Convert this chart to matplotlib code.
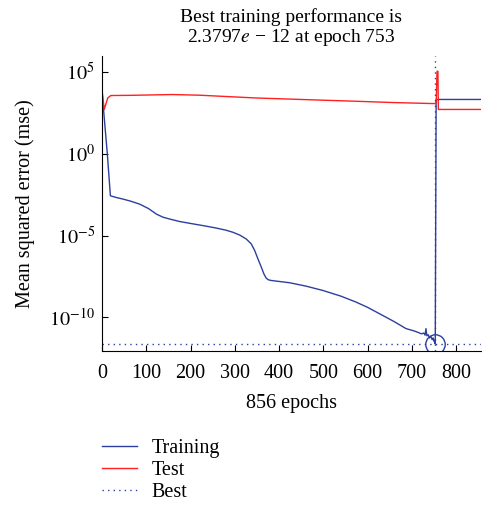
"""
Training performance plot (mse vs epochs), log scale
"""
import numpy as np
import matplotlib
matplotlib.use("Agg")
import matplotlib.pyplot as plt
from matplotlib.lines import Line2D

plt.rcParams['font.family'] = ['Liberation Serif', 'DejaVu Serif']
plt.rcParams['mathtext.fontset'] = 'stix'

# values (log10 of mse)
train_epochs = [0, 6, 12, 19, 30, 47, 65, 85, 105, 123, 138, 153, 175, 198, 230,
                258, 280, 296, 312, 326, 337, 345, 352, 360, 366, 371, 376, 382,
                400, 424, 460, 499, 540, 574, 600, 627, 660, 687, 705, 715, 722,
                727, 730, 732, 734, 737, 740, 743, 746, 748, 750, 751, 753,
                755, 757, 856]
train_log = [3.8, 1.9, 0.0, -2.57, -2.66, -2.77, -2.9, -3.08, -3.35, -3.69,
             -3.88, -3.99, -4.14, -4.25, -4.4, -4.54, -4.67, -4.8, -4.98, -5.21,
             -5.5, -5.91, -6.4, -6.93, -7.35, -7.6, -7.7, -7.74, -7.8, -7.88,
             -8.08, -8.35, -8.7, -9.06, -9.38, -9.77, -10.25, -10.68, -10.82,
             -10.92, -11.0, -10.95, -11.08, -10.68, -11.12, -11.05, -11.25,
             -11.15, -11.35, -11.25, -11.45, -11.4, -11.62, 3.31, 3.31, 3.31]

test_epochs = [0, 5, 13, 20, 60, 100, 159, 220, 348, 460, 574, 660, 747,
               755, 757, 759, 760, 856]
test_log = [3.91, 2.7, 3.4, 3.55, 3.56, 3.58, 3.61, 3.57, 3.4, 3.3, 3.2, 3.12,
            3.06, 3.06, 5.03, 5.03, 2.7, 2.7]

best_epoch = 753
best_perf = 2.3797e-12
n_epochs = 856

blue = '#2D3F9E'
red = '#FF2020'
fs = 14.5

fig = plt.figure(figsize=(4.82, 5.11), dpi=100)
ax = fig.add_axes([0.2116, 0.313, 0.786, 0.577])

ax.plot(train_epochs, 10.0 ** np.array(train_log), color=blue, lw=1.0)
ax.plot(test_epochs, 10.0 ** np.array(test_log), color=red, lw=1.0)
ax.axvline(best_epoch, color=blue, ls=(0, (1, 3)), lw=1.0)
ax.axhline(best_perf, color=blue, ls=(0, (1, 3)), lw=1.0)
ax.plot([best_epoch], [best_perf], 'o', mfc='none', mec=blue, ms=14, mew=1.0)

ax.set_yscale('log')
ax.set_xlim(0, n_epochs)
ax.set_ylim(10 ** -12.05, 10 ** 5.95)
ax.set_xticks(range(0, 801, 100))
ax.set_yticks([1e5, 1e0, 1e-5, 1e-10])
ax.set_yticklabels([r'$10^{5}$', r'$10^{0}$', r'$10^{-5}$', r'$10^{-10}$'])
ax.yaxis.set_minor_locator(matplotlib.ticker.NullLocator())
ax.tick_params(direction='in', length=4, labelsize=fs, width=0.8)
ax.tick_params(axis='x', pad=9)
ax.tick_params(axis='y', pad=5)
for s in ['top', 'right']:
    ax.spines[s].set_visible(False)

ax.set_xlabel(f'{n_epochs} epochs', fontsize=fs, labelpad=8)
ax.set_ylabel('Mean squared error (mse)', fontsize=fs, labelpad=10)
ax.set_title('Best training performance is\n2.3797$\\it{e}$ − 12 at epoch 753',
             fontsize=14, pad=10, linespacing=1.1)

handles = [Line2D([], [], color=blue, lw=1.0),
           Line2D([], [], color=red, lw=1.0),
           Line2D([], [], color=blue, lw=1.0, ls=(0, (1, 3)))]
fig.legend(handles, ['Training', 'Test', 'Best'], loc='upper left',
           bbox_to_anchor=(0.2116, 0.141), bbox_transform=fig.transFigure,
           frameon=False, fontsize=fs, handlelength=1.75, handletextpad=0.7,
           labelspacing=0.15, borderaxespad=0, borderpad=0)

fig.savefig('out.png', dpi=100, facecolor='white')
